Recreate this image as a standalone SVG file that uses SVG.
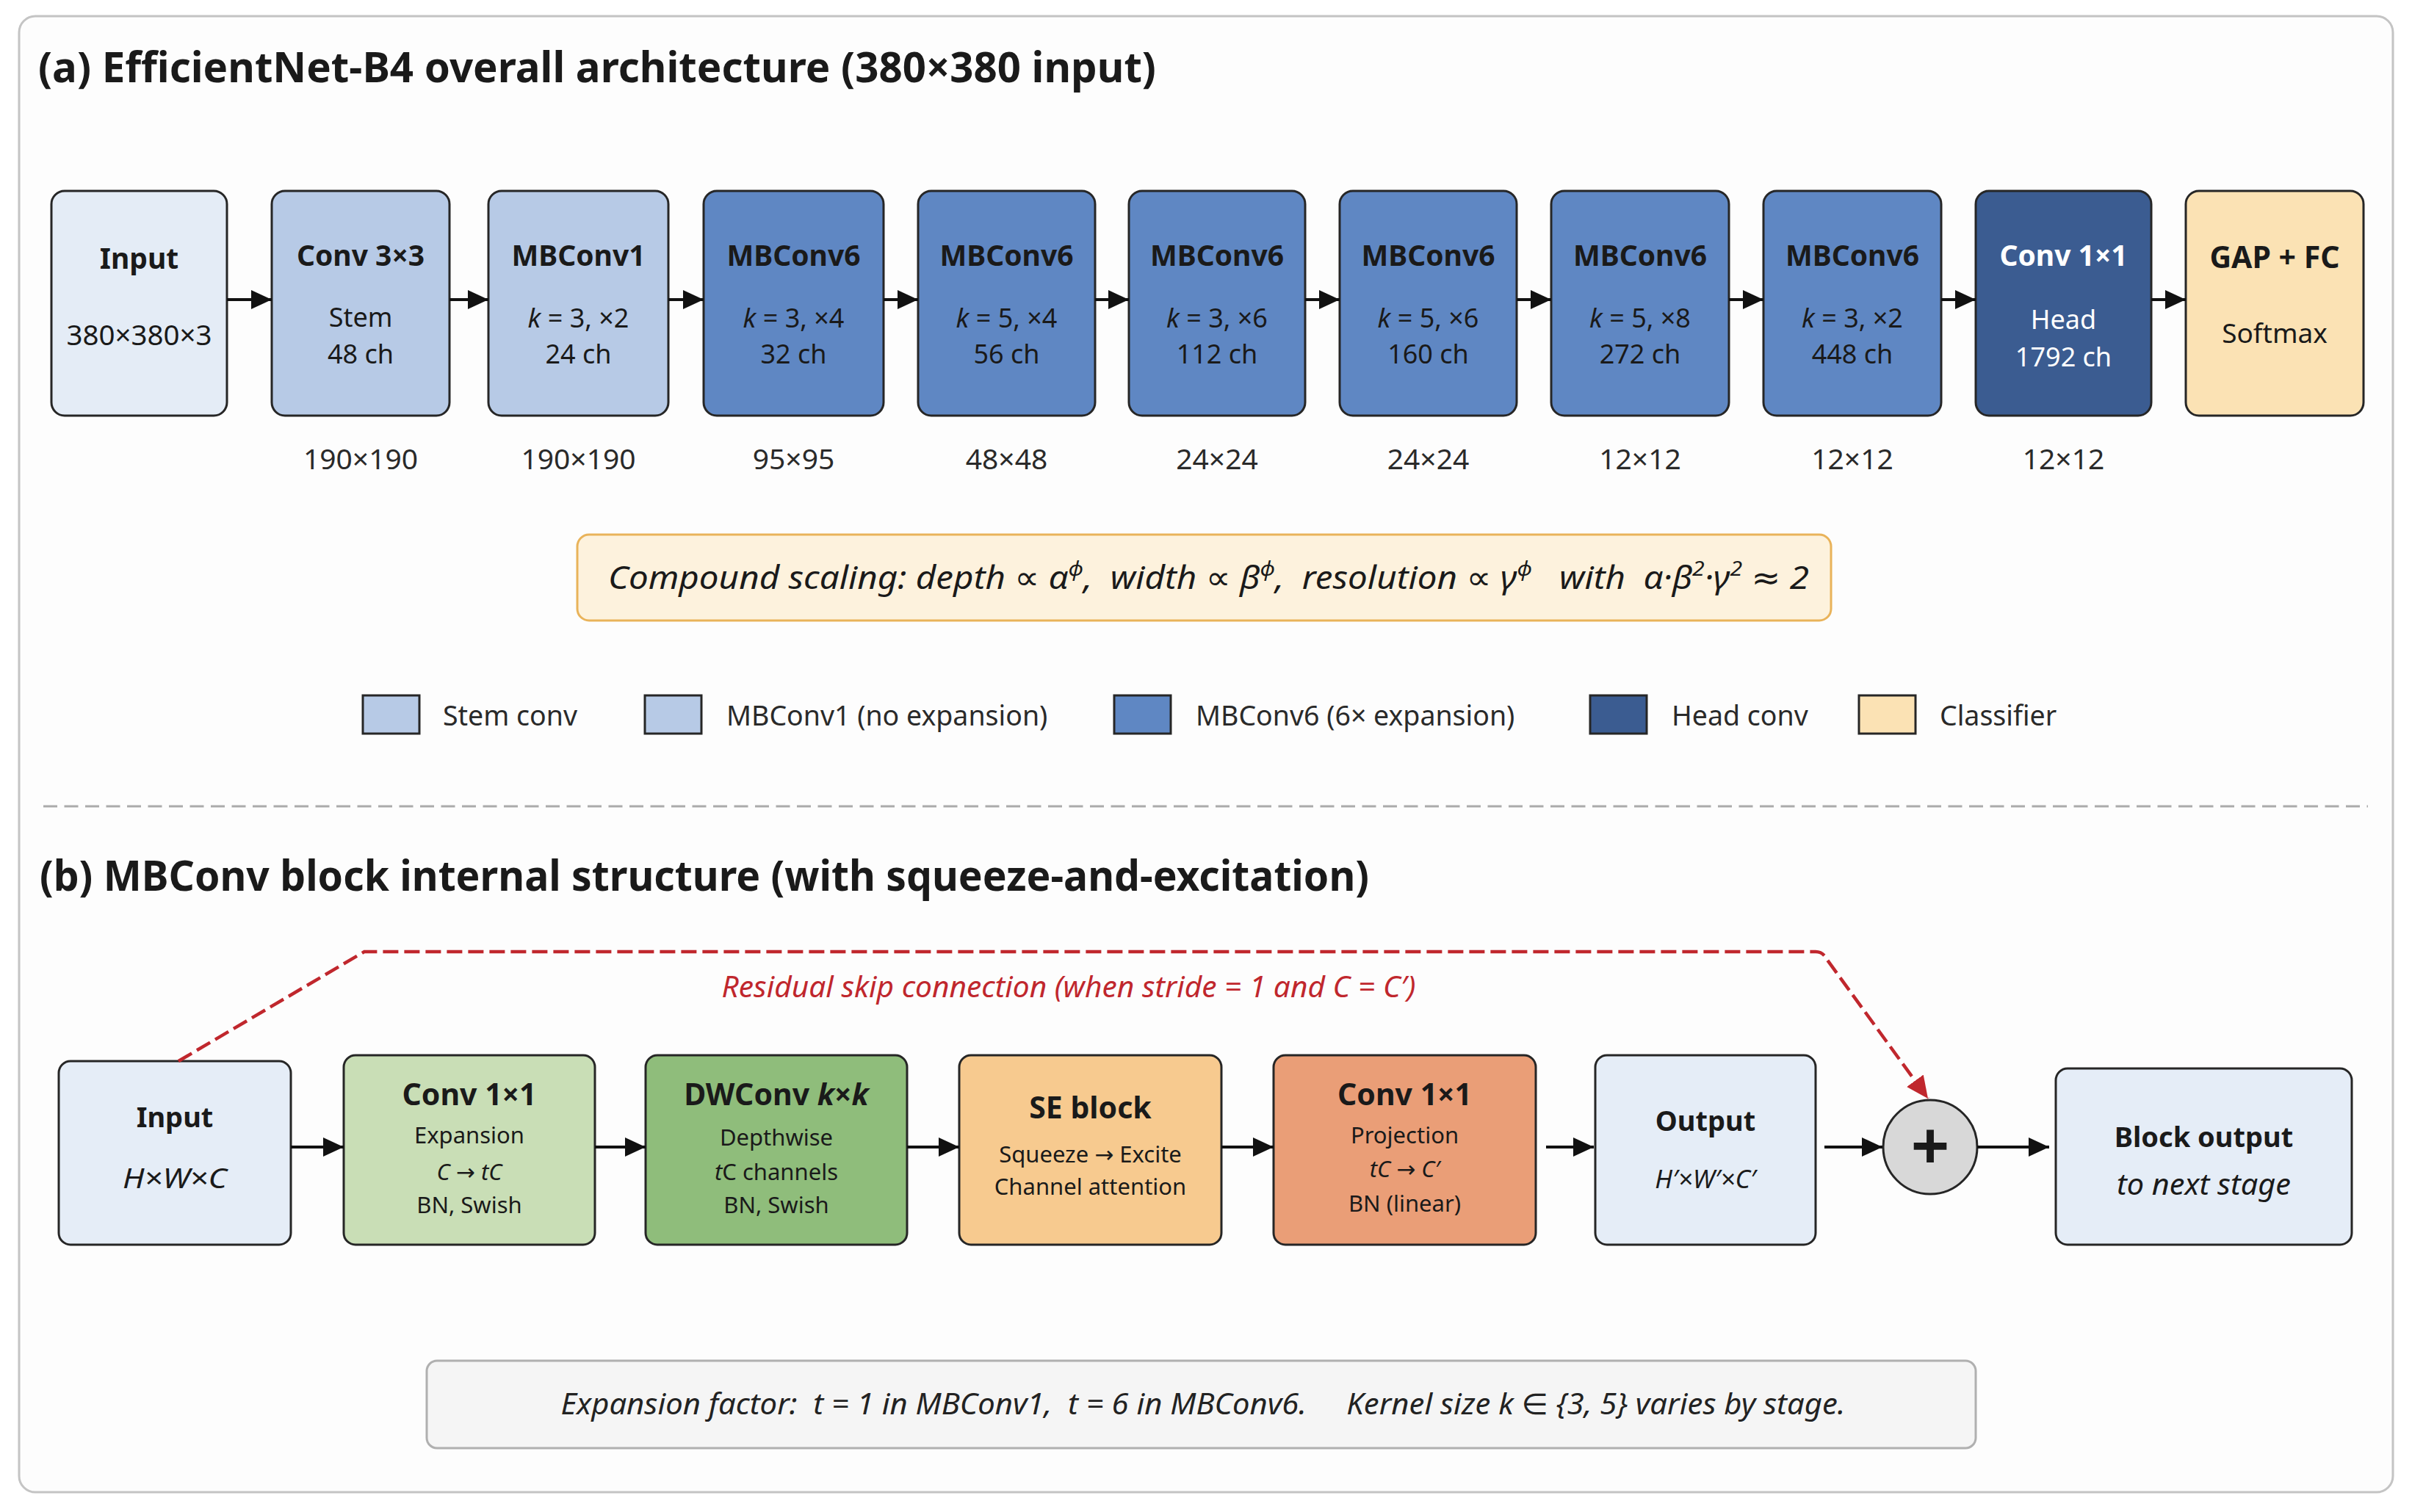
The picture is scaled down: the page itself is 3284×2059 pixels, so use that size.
<svg xmlns="http://www.w3.org/2000/svg" width="3284" height="2059" viewBox="0 0 3284 2059">
<defs>
<style>
text{font-family:"Noto Sans","DejaVu Sans",sans-serif;fill:#1a1a1a;}
.ttl{font-size:58px;font-weight:700;}
.bt{font-size:39px;font-weight:700;text-anchor:middle;}
.st{font-size:36px;text-anchor:middle;}
.res{font-size:39px;text-anchor:middle;fill:#2a2a2a;}
.lg{font-size:37.5px;fill:#2a2a2a;}
.bt2{font-size:41px;font-weight:700;text-anchor:middle;}
.st2{font-size:31px;text-anchor:middle;}
.it{font-style:italic;}
.w{fill:#ffffff;}
.box{stroke:#262626;stroke-width:3;}
.arr{stroke:#111;stroke-width:4;fill:none;}
</style>
<marker id="ah" markerUnits="userSpaceOnUse" markerWidth="30" markerHeight="26" refX="28" refY="13" orient="auto">
<path d="M0,0 L28,13 L0,26 Z" fill="#111"/>
</marker>
<marker id="ahr" markerUnits="userSpaceOnUse" markerWidth="32" markerHeight="28" refX="30" refY="14" orient="auto">
<path d="M0,0 L30,14 L0,28 Z" fill="#c0272d"/>
</marker>
</defs>
<rect x="0" y="0" width="3284" height="2059" fill="#ffffff"/>
<rect x="26" y="22" width="3232" height="2010" rx="22" fill="#fdfdfd" stroke="#c4c4c4" stroke-width="3"/>

<text class="ttl" x="52" y="112" textLength="1522" lengthAdjust="spacingAndGlyphs">(a) EfficientNet-B4 overall architecture (380×380 input)</text>

<g id="a-input"><rect class="box" x="70" y="260" width="239" height="306" rx="18" fill="#e4ecf6"/>
<text class="bt" x="189.5" y="366">Input</text><text class="st" x="189.5" y="470" style="font-size:38.5px">380×380×3</text></g>
<g id="a-stem"><rect class="box" x="370" y="260" width="242" height="306" rx="18" fill="#b7cae6"/>
<text class="bt" x="491" y="362">Conv 3×3</text><text class="st" x="491" y="445">Stem</text><text class="st" x="491" y="495">48 ch</text></g>
<g id="a-mb1"><rect class="box" x="665" y="260" width="245" height="306" rx="18" fill="#b7cae6"/>
<text class="bt" x="787.5" y="362">MBConv1</text><text class="st" x="787.5" y="446"><tspan class="it">k</tspan> = 3, ×2</text><text class="st" x="787.5" y="495">24 ch</text></g>
<g id="a-mb6a"><rect class="box" x="958" y="260" width="245" height="306" rx="18" fill="#5f87c3"/>
<text class="bt" x="1080.5" y="362">MBConv6</text><text class="st" x="1080.5" y="446"><tspan class="it">k</tspan> = 3, ×4</text><text class="st" x="1080.5" y="495">32 ch</text></g>
<g id="a-mb6b"><rect class="box" x="1250" y="260" width="241" height="306" rx="18" fill="#5f87c3"/>
<text class="bt" x="1370.5" y="362">MBConv6</text><text class="st" x="1370.5" y="446"><tspan class="it">k</tspan> = 5, ×4</text><text class="st" x="1370.5" y="495">56 ch</text></g>
<g id="a-mb6c"><rect class="box" x="1537" y="260" width="240" height="306" rx="18" fill="#5f87c3"/>
<text class="bt" x="1657" y="362">MBConv6</text><text class="st" x="1657" y="446"><tspan class="it">k</tspan> = 3, ×6</text><text class="st" x="1657" y="495">112 ch</text></g>
<g id="a-mb6d"><rect class="box" x="1824" y="260" width="241" height="306" rx="18" fill="#5f87c3"/>
<text class="bt" x="1944.5" y="362">MBConv6</text><text class="st" x="1944.5" y="446"><tspan class="it">k</tspan> = 5, ×6</text><text class="st" x="1944.5" y="495">160 ch</text></g>
<g id="a-mb6e"><rect class="box" x="2112" y="260" width="242" height="306" rx="18" fill="#5f87c3"/>
<text class="bt" x="2233" y="362">MBConv6</text><text class="st" x="2233" y="446"><tspan class="it">k</tspan> = 5, ×8</text><text class="st" x="2233" y="495">272 ch</text></g>
<g id="a-mb6f"><rect class="box" x="2401" y="260" width="242" height="306" rx="18" fill="#5f87c3"/>
<text class="bt" x="2522" y="362">MBConv6</text><text class="st" x="2522" y="446"><tspan class="it">k</tspan> = 3, ×2</text><text class="st" x="2522" y="495">448 ch</text></g>
<g id="a-head"><rect class="box" x="2690" y="260" width="239" height="306" rx="18" fill="#3b5c91"/>
<text class="bt w" x="2809.5" y="362">Conv 1×1</text><text class="st w" x="2809.5" y="448">Head</text><text class="st w" x="2809.5" y="499">1792 ch</text></g>
<g id="a-cls"><rect class="box" x="2976" y="260" width="242" height="306" rx="18" fill="#fbe2b4"/>
<text class="bt" x="3097" y="365" style="font-size:41px">GAP + FC</text><text class="st" x="3097" y="467" style="font-size:37px">Softmax</text></g>

<g id="a-res">
<text class="res" x="491" y="639">190×190</text>
<text class="res" x="787.5" y="639">190×190</text>
<text class="res" x="1080.5" y="639">95×95</text>
<text class="res" x="1370.5" y="639">48×48</text>
<text class="res" x="1657" y="639">24×24</text>
<text class="res" x="1944.5" y="639">24×24</text>
<text class="res" x="2233" y="639">12×12</text>
<text class="res" x="2522" y="639">12×12</text>
<text class="res" x="2809.5" y="639">12×12</text>
</g>

<g id="a-connectors">
<line class="arr" x1="309" y1="408" x2="370" y2="408" marker-end="url(#ah)"/>
<line class="arr" x1="612" y1="408" x2="665" y2="408" marker-end="url(#ah)"/>
<line class="arr" x1="910" y1="408" x2="958" y2="408" marker-end="url(#ah)"/>
<line class="arr" x1="1203" y1="408" x2="1250" y2="408" marker-end="url(#ah)"/>
<line class="arr" x1="1491" y1="408" x2="1537" y2="408" marker-end="url(#ah)"/>
<line class="arr" x1="1777" y1="408" x2="1824" y2="408" marker-end="url(#ah)"/>
<line class="arr" x1="2065" y1="408" x2="2112" y2="408" marker-end="url(#ah)"/>
<line class="arr" x1="2354" y1="408" x2="2401" y2="408" marker-end="url(#ah)"/>
<line class="arr" x1="2643" y1="408" x2="2690" y2="408" marker-end="url(#ah)"/>
<line class="arr" x1="2929" y1="408" x2="2976" y2="408" marker-end="url(#ah)"/>
</g>

<g id="a-scaling">
<rect x="786" y="728" width="1707" height="117" rx="16" fill="#fdf2dd" stroke="#e9b35a" stroke-width="3"/>
<text class="it" x="828" y="802" style="font-size:44px;white-space:pre" fill="#1a1a1a" textLength="1635" lengthAdjust="spacingAndGlyphs">Compound scaling: depth ∝ α<tspan dy="-18" font-size="28">ϕ</tspan><tspan dy="18">,  width ∝ β</tspan><tspan dy="-18" font-size="28">ϕ</tspan><tspan dy="18">,  resolution ∝ γ</tspan><tspan dy="-18" font-size="28">ϕ</tspan><tspan dy="18">   with  α·β</tspan><tspan dy="-18" font-size="28">2</tspan><tspan dy="18">·γ</tspan><tspan dy="-18" font-size="28">2</tspan><tspan dy="18"> ≈ 2</tspan></text>
</g>

<g id="a-legend">
<rect class="box" x="494" y="947" width="77" height="52" fill="#b7cae6"/>
<text class="lg" x="603" y="988">Stem conv</text>
<rect class="box" x="878" y="947" width="77" height="52" fill="#b7cae6"/>
<text class="lg" x="989" y="988">MBConv1 (no expansion)</text>
<rect class="box" x="1517" y="947" width="77" height="52" fill="#5f87c3"/>
<text class="lg" x="1628" y="988">MBConv6 (6× expansion)</text>
<rect class="box" x="2165" y="947" width="77" height="52" fill="#3b5c91"/>
<text class="lg" x="2276" y="988">Head conv</text>
<rect class="box" x="2531" y="947" width="77" height="52" fill="#fbe2b4"/>
<text class="lg" x="2641" y="988">Classifier</text>
</g>

<line x1="59" y1="1098" x2="3224" y2="1098" stroke="#ababab" stroke-width="3" stroke-dasharray="19 9.5"/>

<text class="ttl" x="54" y="1213" textLength="1810" lengthAdjust="spacingAndGlyphs">(b) MBConv block internal structure (with squeeze-and-excitation)</text>

<g id="b-input"><rect class="box" x="80" y="1445" width="316" height="250" rx="16" fill="#e5edf7"/>
<text class="bt2" x="238" y="1535" style="font-size:38px">Input</text><text class="st2 it" x="238" y="1618" style="font-size:38px" textLength="142" lengthAdjust="spacingAndGlyphs">H×W×C</text></g>
<g id="b-exp"><rect class="box" x="468" y="1437" width="342" height="258" rx="16" fill="#c9deb6"/>
<text class="bt2" x="639" y="1505">Conv 1×1</text><text class="st2" x="639" y="1557">Expansion</text><text class="st2" x="639" y="1607"><tspan class="it">C</tspan> → <tspan class="it">tC</tspan></text><text class="st2" x="639" y="1652">BN, Swish</text></g>
<g id="b-dw"><rect class="box" x="879" y="1437" width="356" height="258" rx="16" fill="#8fbd7b"/>
<text class="bt2" x="1057" y="1505">DWConv <tspan class="it">k</tspan>×<tspan class="it">k</tspan></text><text class="st2" x="1057" y="1560">Depthwise</text><text class="st2" x="1057" y="1607"><tspan class="it">t</tspan>C channels</text><text class="st2" x="1057" y="1652">BN, Swish</text></g>
<g id="b-se"><rect class="box" x="1306" y="1437" width="357" height="258" rx="16" fill="#f7ca8f"/>
<text class="bt2" x="1484.5" y="1523">SE block</text><text class="st2" x="1484.5" y="1583">Squeeze → Excite</text><text class="st2" x="1484.5" y="1627">Channel attention</text></g>
<g id="b-proj"><rect class="box" x="1734" y="1437" width="357" height="258" rx="16" fill="#ea9e77"/>
<text class="bt2" x="1912.5" y="1505">Conv 1×1</text><text class="st2" x="1912.5" y="1557">Projection</text><text class="st2" x="1912.5" y="1603"><tspan class="it">tC</tspan> → <tspan class="it">C′</tspan></text><text class="st2" x="1912.5" y="1650">BN (linear)</text></g>
<g id="b-output"><rect class="box" x="2172" y="1437" width="300" height="258" rx="16" fill="#e5edf7"/>
<text class="bt2" x="2322" y="1540" style="font-size:38px">Output</text><text class="st2 it" x="2322" y="1618" style="font-size:35px">H′×W′×C′</text></g>
<g id="b-add"><circle cx="2628" cy="1562" r="64" fill="#d8d8d8" stroke="#262626" stroke-width="3"/>
<text x="2628" y="1593" style="font-size:92px;font-weight:700;text-anchor:middle">+</text></g>
<g id="b-block"><rect class="box" x="2799" y="1455" width="403" height="240" rx="16" fill="#e5edf7"/>
<text class="bt2" x="3000.5" y="1562" style="font-size:38px">Block output</text><text class="st2 it" x="3000.5" y="1627" style="font-size:40px" textLength="237" lengthAdjust="spacingAndGlyphs">to next stage</text></g>

<g id="b-connectors">
<line class="arr" x1="396" y1="1562" x2="468" y2="1562" marker-end="url(#ah)"/>
<line class="arr" x1="810" y1="1562" x2="879" y2="1562" marker-end="url(#ah)"/>
<line class="arr" x1="1235" y1="1562" x2="1306" y2="1562" marker-end="url(#ah)"/>
<line class="arr" x1="1663" y1="1562" x2="1734" y2="1562" marker-end="url(#ah)"/>
<line class="arr" x1="2105" y1="1562" x2="2170" y2="1562" marker-end="url(#ah)"/>
<line class="arr" x1="2484" y1="1562" x2="2563" y2="1562" marker-end="url(#ah)"/>
<line class="arr" x1="2692" y1="1562" x2="2790" y2="1562" marker-end="url(#ah)"/>
<path d="M243,1445 L496,1296 L2472,1296 Q2482,1296 2487,1306 L2625,1496" fill="none" stroke="#c0272d" stroke-width="4.5" stroke-dasharray="21 8" marker-end="url(#ahr)"/>
<text class="it" x="1455" y="1358" style="font-size:40px;text-anchor:middle;fill:#c0272d" textLength="945" lengthAdjust="spacingAndGlyphs">Residual skip connection (when stride = 1 and C = C′)</text>
</g>

<g id="b-note">
<rect x="581" y="1853" width="2109" height="119" rx="14" fill="#f5f5f5" stroke="#b0b0b0" stroke-width="3"/>
<text class="it" x="1638" y="1926" style="font-size:40px;text-anchor:middle;white-space:pre;fill:#222" textLength="1749" lengthAdjust="spacingAndGlyphs">Expansion factor:  t = 1 in MBConv1,  t = 6 in MBConv6.     Kernel size k ∈ {3, 5} varies by stage.</text>
</g>
</svg>
